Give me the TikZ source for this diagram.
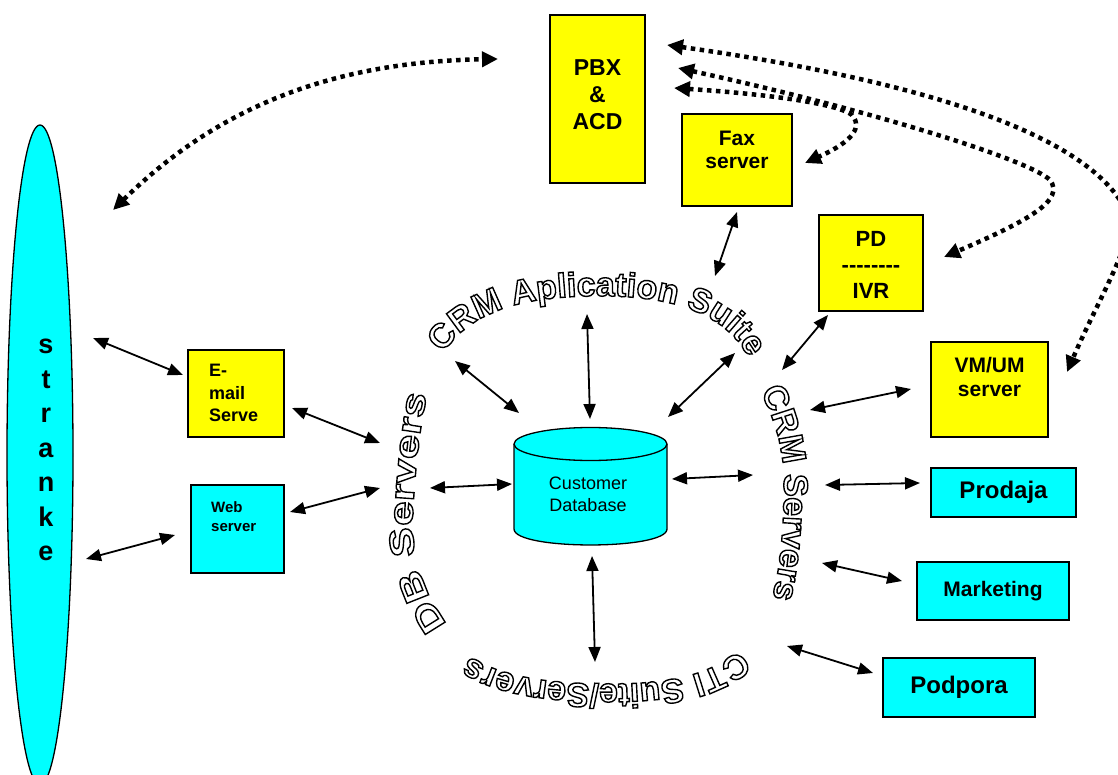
\documentclass[tikz,border=0pt]{standalone}
\usepackage{fontspec}
\setmainfont{Liberation Sans}
\newfontfamily\widesans{Liberation Sans}[FakeStretch=1.3]
\usetikzlibrary{arrows.meta,shapes.geometric,decorations.text}
\definecolor{boxyellow}{RGB}{255,255,0}
\definecolor{boxcyan}{RGB}{0,255,255}
\newcommand\fsz[2]{\fontsize{#1}{#2}\selectfont}

\begin{document}
\begin{tikzpicture}[x=1pt,y=-1pt,
  box/.style={draw=black, line width=1.3pt, inner sep=0pt},
  ybox/.style={box, fill=boxyellow},
  cbox/.style={box, fill=boxcyan},
  lbl/.style={align=center, inner sep=0pt},
  link/.style={line width=1.8pt, {Triangle[length=15pt,width=12pt]}-{Triangle[length=15pt,width=12pt]}},
  dlink/.style={line width=4.5pt, dash pattern=on 4.5pt off 4.5pt, {Triangle[length=16pt,width=15pt]}-{Triangle[length=16pt,width=15pt]}},
  arcword/.style={decorate, decoration={text along path, text align=center, text={|\fsz{34}{34}\bfseries|#1}}},
  widearcword/.style={decorate, decoration={text along path, text align=center, text={|\widesans\fsz{34}{34}\bfseries|#1}}},
]
\useasboundingbox (0,0) rectangle (1118,775);
\clip (0,0) rectangle (1118,775);

% customers
\node[draw, line width=1.3pt, fill=boxcyan, ellipse, minimum width=66pt, minimum height=660pt, inner sep=0pt] (stranke) at (40,455) {};
\node[lbl, font=\bfseries\fsz{27}{34.5}] (strankeT) at (46,450) {s\\t\\r\\a\\n\\k\\e};

% telephony boxes
\node[ybox, minimum width=95pt, minimum height=168pt] (pbx) at (597.5,99) {};
\node[lbl, font=\bfseries\fsz{23}{27}] (pbxT) at (597.5,95) {PBX\\\&\\ACD};
\node[ybox, minimum width=110pt, minimum height=92pt] (fax) at (737,160) {};
\node[lbl, font=\bfseries\fsz{21}{23}] (faxT) at (737,150) {Fax\\server};
\node[ybox, minimum width=104pt, minimum height=96pt] (pd) at (871,263) {};
\node[lbl, font=\bfseries\fsz{22}{26}] (pdT) at (871,265) {PD\\-{}-{}-{}-{}-{}-{}-{}-\\IVR};
\node[ybox, minimum width=117pt, minimum height=95pt] (vm) at (989.5,389.5) {};
\node[lbl, font=\bfseries\fsz{21}{24}] (vmT) at (989.5,377) {VM/UM\\server};

% channel boxes
\node[ybox, minimum width=96pt, minimum height=87pt] (mail) at (236,393.5) {};
\node[lbl, align=left, anchor=west, font=\bfseries\fsz{18}{22.5}] (mailT) at (209,393) {E-\\mail\\Serve};
\node[cbox, minimum width=93pt, minimum height=88pt] (web) at (237.5,529) {};
\node[lbl, align=left, anchor=west, font=\bfseries\fsz{15}{19}] (webT) at (211,517) {Web\\server};

% departments
\node[cbox, minimum width=145pt, minimum height=49pt, font=\bfseries\fsz{24}{28}] (pro) at (1003.5,492.5) {Prodaja};
\node[cbox, minimum width=152pt, minimum height=58pt, font=\bfseries\fsz{21}{25}] (mkt) at (993,591) {Marketing};
\node[cbox, minimum width=152pt, minimum height=59pt, font=\bfseries\fsz{24}{28}] (pod) at (959,687.5) {Podpora};

% customer database cylinder
\fill[boxcyan] (514,444) -- (514,529) .. controls (514,550.3) and (667,550.3) .. (667,529) -- (667,444) -- cycle;
\draw[line width=1.3pt] (514,444) -- (514,529) .. controls (514,550.3) and (667,550.3) .. (667,529) -- (667,444);
\draw[line width=1.3pt, fill=boxcyan] (590.5,444) ellipse [x radius=76.5, y radius=16.5];
\node[lbl, font=\fsz{18}{22}] (db) at (588,494) {Customer\\Database};

% outlined ring of labels around the database
\begin{scope}[line width=1.4pt]
\special{pdf:literal direct 1 Tr}
\path[arcword={CRM Aplication Suite}] (439,360) .. controls (468,308) and (530,296) .. (600,296) .. controls (670,296) and (730,312) .. (752,365);
\path[arcword={CRM Servers}] (753,376) .. controls (776,420) and (785,450) .. (784,495) .. controls (783,545) and (778,585) .. (767,614);
\path[arcword={CTI Suite/Servers}] (750,638) .. controls (722,672) and (680,684) .. (607,684) .. controls (535,684) and (480,672) .. (458,645);
\path[widearcword={DB Servers}] (460,640) .. controls (420,595) and (410,550) .. (413,510) .. controls (416,455) and (422,410) .. (432,375);
\special{pdf:literal direct 0 Tr}
\end{scope}

% connector end points
\coordinate (c-st1) at (93,338);   \coordinate (c-em1) at (183,375);
\coordinate (c-st2) at (86,559);   \coordinate (c-wb1) at (175,535);
\coordinate (c-em2) at (292,408);  \coordinate (c-dbs1) at (380,443);
\coordinate (c-wb2) at (290,512);  \coordinate (c-dbs2) at (380,488);
\coordinate (c-dbs3) at (430,488); \coordinate (c-db1) at (512,484);
\coordinate (c-app1) at (455,361); \coordinate (c-db2) at (519,413);
\coordinate (c-app2) at (587,314); \coordinate (c-db3) at (590,419);
\coordinate (c-app3) at (735,353); \coordinate (c-db4) at (668,417);
\coordinate (c-fax) at (737,212);  \coordinate (c-app4) at (715,276);
\coordinate (c-pd) at (828,315);   \coordinate (c-crm1) at (782,370);
\coordinate (c-crm2) at (810,410); \coordinate (c-vm) at (911,389);
\coordinate (c-crm3) at (825,485); \coordinate (c-pro) at (920,483);
\coordinate (c-crm4) at (822,563); \coordinate (c-mkt) at (902,581);
\coordinate (c-crm5) at (787,646); \coordinate (c-pod) at (873,673);
\coordinate (c-db5) at (592,556);  \coordinate (c-cti) at (595,662);
\coordinate (c-db6) at (672,479);  \coordinate (c-crm6) at (753,475);

\draw[link] (c-st1) -- (c-em1);
\draw[link] (c-st2) -- (c-wb1);
\draw[link] (c-em2) -- (c-dbs1);
\draw[link] (c-wb2) -- (c-dbs2);
\draw[link] (c-dbs3) -- (c-db1);
\draw[link] (c-app1) -- (c-db2);
\draw[link] (c-app2) -- (c-db3);
\draw[link] (c-app3) -- (c-db4);
\draw[link] (c-fax) -- (c-app4);
\draw[link] (c-pd) -- (c-crm1);
\draw[link] (c-crm2) -- (c-vm);
\draw[link] (c-crm3) -- (c-pro);
\draw[link] (c-crm4) -- (c-mkt);
\draw[link] (c-crm5) -- (c-pod);
\draw[link] (c-db5) -- (c-cti);
\draw[link] (c-db6) -- (c-crm6);

% dotted voice links of the PBX
\coordinate (d-st) at (113,210);   \coordinate (d-pbx1) at (498,59);
\coordinate (d-pbx2) at (667,45);  \coordinate (d-r1) at (1128,215);  \coordinate (d-vm) at (1067,372);
\coordinate (d-pbx3) at (678,68);  \coordinate (d-k1) at (1050,180);  \coordinate (d-pd) at (944,257);
\coordinate (d-pbx4) at (674,88);  \coordinate (d-k2) at (852,115);   \coordinate (d-fax) at (805,163);

\draw[dlink] (d-st) .. controls (210,115) and (320,62) .. (d-pbx1);
\draw[dlink] (d-pbx2) .. controls (880,75) and (1090,125) .. (d-r1) .. controls (1135,240) and (1098,300) .. (d-vm);
\draw[dlink] (d-pbx3) .. controls (870,110) and (1030,160) .. (d-k1) .. controls (1065,200) and (1030,220) .. (d-pd);
\draw[dlink] (d-pbx4) .. controls (780,95) and (840,105) .. (d-k2) .. controls (865,130) and (845,145) .. (d-fax);
\end{tikzpicture}
\end{document}
